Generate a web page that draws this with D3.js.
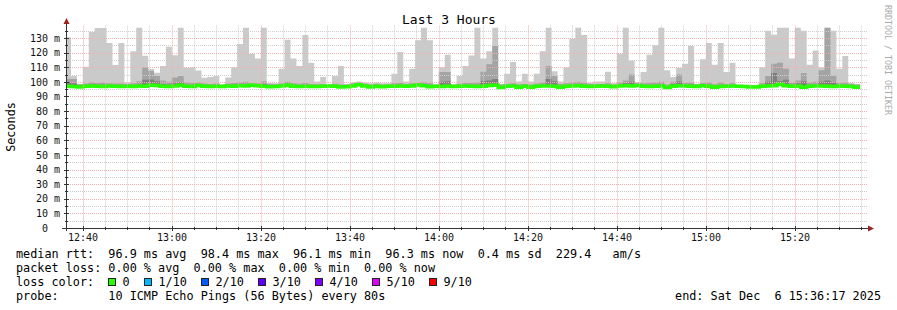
<!DOCTYPE html>
<html>
<head>
<meta charset="utf-8">
<script src="https://cdn.jsdelivr.net/npm/d3@7"></script>
<style>
  body { margin: 0; background: #fff; }
  svg { display: block; }
  text { font-family: "DejaVu Sans Mono", monospace; white-space: pre; }
</style>
</head>
<body>
<svg id="chart"></svg>
<script>
// Smokeping "Last 3 Hours" graph

// time range and rrd step
var stepSeconds = 80;
var firstStep = new Date(2025, 11, 6, 12, 36, 4);
var rangeStart = new Date(2025, 11, 6, 12, 36, 17);
var rangeEnd = new Date(2025, 11, 6, 15, 36, 17);

// median rtt per step (ms)
var medianRtt = [
  97.0, 96.9, 96.5, 97.0, 97.2, 97.0, 96.9, 97.1, 97.0, 96.8,
  97.0, 96.9, 97.1, 97.0, 97.6, 97.5, 97.0, 96.8, 97.1, 97.6,
  97.0, 96.9, 97.5, 97.0, 96.9, 97.0, 96.8, 97.1, 97.0, 97.3,
  97.1, 97.6, 97.4, 97.0, 96.7, 96.9, 97.2, 97.6, 97.0, 96.9,
  97.0, 96.8, 96.9, 97.0, 97.2, 97.0, 96.5, 96.6, 97.2, 98.0,
  97.1, 96.5, 97.0, 96.6, 97.0, 97.0, 97.1, 97.0, 97.2, 97.9,
  97.3, 96.6, 97.0, 96.9, 97.1, 96.8, 97.0, 97.2, 97.0, 96.9,
  97.0, 97.5, 97.6, 96.2, 97.0, 97.2, 96.3, 97.0, 96.3, 97.0,
  97.1, 97.2, 97.0, 96.3, 97.0, 97.1, 97.3, 97.0, 96.8, 97.0,
  97.1, 97.0, 96.7, 97.2, 97.3, 97.1, 97.5, 97.0, 96.9, 97.0,
  97.1, 96.2, 97.0, 97.3, 97.2, 97.0, 96.9, 97.4, 97.0, 96.3,
  96.9, 97.0, 97.1, 97.0, 96.8, 96.4, 96.4, 97.0, 97.2, 97.4,
  98.4, 97.3, 97.0, 97.1, 96.3, 97.0, 97.1, 97.2, 97.0, 96.9,
  97.1, 97.0, 96.9, 96.3
];

// slowest ping per step (outer smoke)
var maxRtt = [
  130.5, 104, 98.5, 110.4, 134.1, 136.8, 136.8, 126.6, 111.6, 126.6,
  99.7, 121, 137, 117.8, 108.8, 106.3, 110.9, 124, 118.2, 137,
  109.7, 110, 107.7, 102.9, 103.4, 104, 98.2, 103, 110, 125.9,
  137, 119, 116, 137, 99.2, 99, 109, 128.8, 116, 110.8,
  132, 113, 100.3, 103.3, 98.3, 104, 110.8, 98.5, 99.5, 100.3,
  99.5, 99, 99.5, 99, 99, 105.6, 120.4, 100.3, 109, 128.4,
  137, 128.4, 98.3, 110, 118.6, 98.3, 104, 110.8, 118, 137,
  116, 121, 137, 98.5, 105.6, 113.6, 100.3, 105.6, 100.3, 105.6,
  121, 137, 107.2, 100.3, 110, 129.5, 137, 132, 99.4, 100.3,
  100.3, 107, 99, 119.3, 137, 114.7, 99.9, 106.7, 118.6, 125,
  137, 107.9, 103.3, 109.5, 112.4, 124.5, 98.7, 115.4, 126.6, 111.7,
  126.6, 106.7, 113, 98, 98, 98, 98, 110, 135, 132.3,
  137, 137, 116, 137, 135, 111.7, 121.5, 110, 137, 135,
  109, 117.7, 99.4, 98.5
];

// 9th of 10 pings (second smoke band)
var upperRtt = [
  102, 102, 98.3, 98.8, 99.5, 99.3, 99.5, 99, 98.8, 98.8,
  98.6, 99, 100.5, 110, 107.5, 104, 101, 100, 103, 104,
  99.5, 99.2, 99.5, 98.8, 98.6, 98.8, 98, 98.8, 99.2, 99.5,
  100, 99, 98.8, 100.5, 98.5, 98.3, 98.8, 100, 99, 98.7,
  99.3, 98.6, 98.4, 98.6, 98, 98.7, 98.2, 98.2, 98.8, 99.6,
  98.7, 98.2, 98.6, 98.2, 98.4, 99, 99.2, 98.6, 99, 99.4,
  99.8, 99, 98, 106.7, 106.7, 98, 98.7, 99.3, 99.2, 99.5,
  107, 112, 124.5, 98.2, 98.6, 99, 98.2, 98.6, 98, 98.8,
  99.5, 110.8, 104, 98.5, 99, 99.5, 100, 99.4, 98.6, 98.6,
  98.5, 99, 98.2, 99.5, 101, 105, 99, 99, 99.4, 99.6,
  100, 98, 100, 105, 99.4, 99.6, 98.4, 99.2, 99.5, 98.4,
  99.5, 98.6, 99, 97.8, 97.6, 97.3, 97.3, 99, 104, 112.4,
  113, 109, 99.5, 101, 106, 99.6, 100, 108, 137, 104.4,
  99.3, 99.5, 98.6, 98.2
];

// 8th of 10 pings (third smoke band)
var innerRtt = [
  100, 99, 97.8, 97.8, 98, 97.9, 98, 97.8, 97.8, 97.8,
  97.8, 97.8, 98.2, 101.5, 101.7, 100.5, 98.5, 98.2, 99, 99.5,
  97.9, 97.8, 98, 97.8, 97.8, 97.8, 97.6, 97.8, 97.8, 98,
  98.2, 97.8, 97.8, 98.5, 97.6, 97.6, 97.8, 98.4, 97.8, 97.8,
  97.9, 97.6, 97.6, 97.6, 97.6, 97.8, 97.4, 97.4, 97.8, 98.6,
  97.8, 97.4, 97.6, 97.4, 97.6, 97.8, 97.9, 97.6, 97.8, 98.4,
  98.4, 97.6, 97.6, 100, 100.5, 97.6, 97.8, 97.9, 97.8, 97.9,
  100.5, 101, 102, 97.2, 97.8, 97.9, 97.2, 97.6, 97.2, 97.8,
  97.9, 102, 100.5, 97.2, 97.8, 97.9, 98.2, 97.8, 97.6, 97.6,
  97.6, 97.8, 97.4, 97.9, 99, 100, 98, 97.8, 97.8, 97.9,
  98.2, 97.2, 98.6, 100.2, 97.9, 98, 97.6, 98, 97.8, 97.2,
  97.8, 97.6, 97.8, 97.4, 97.4, 97.2, 97.2, 97.8, 100, 106,
  100.5, 101.5, 97.9, 99, 100.5, 97.9, 98, 100, 101, 99.5,
  97.8, 97.9, 97.6, 97.2
];

// axis ticks
var yTickValues = [0, 10, 20, 30, 40, 50, 60, 70, 80, 90, 100, 110, 120, 130];
var xTickLabels = ["12:40", "13:00", "13:20", "13:40", "14:00", "14:20", "14:40", "15:00", "15:20"];

// legend
var statLines = [
  "median rtt:  96.9 ms avg  98.4 ms max  96.1 ms min  96.3 ms now  0.4 ms sd  229.4   am/s",
  "packet loss: 0.00 % avg  0.00 % max  0.00 % min  0.00 % now"
];
var lossLabels = ["0", "1/10", "2/10", "3/10", "4/10", "5/10", "9/10"];
var lossColors = ["#26ff00", "#00b8ff", "#0059ff", "#5e00ff", "#7e00ff", "#dd00ff", "#ff0000"];
var probeText = "probe:       10 ICMP Echo Pings (56 Bytes) every 80s";
var endText = "end: Sat Dec  6 15:36:17 2025";

// Setup
// ===========================
var width = 897, height = 310;
var plotLeft = 66, plotRight = 867, plotTop = 25.6, plotBottom = 228;

var svg = d3.select("#chart")
  .attr("width", width)
  .attr("height", height);

svg.append("rect")
  .attr("width", width)
  .attr("height", height)
  .attr("fill", "#fff");

var x = d3.scaleTime()
  .domain([rangeStart, rangeEnd])
  .range([plotLeft, plotRight]);

var y = d3.scaleLinear()
  .domain([0, 138.5])
  .range([plotBottom, plotTop]);

svg.append("clipPath")
  .attr("id", "plotClip")
  .append("rect")
  .attr("x", plotLeft)
  .attr("y", plotTop - 2)
  .attr("width", plotRight - plotLeft)
  .attr("height", plotBottom - plotTop + 2);

// one point per step, plus a closing point so the last step has width
var points = medianRtt.map(function(m, i) {
  return {
    t: new Date(firstStep.getTime() + i * stepSeconds * 1000),
    median: m,
    max: maxRtt[i],
    upper: upperRtt[i],
    inner: innerRtt[i]
  };
});
var last = points[points.length - 1];
points.push(Object.assign({}, last, {
  t: new Date(last.t.getTime() + stepSeconds * 1000)
}));

var plot = svg.append("g").attr("clip-path", "url(#plotClip)");

// smoke bands
var bands = [
  { key: "max", color: "#cacaca" },
  { key: "upper", color: "#a4a4a4" },
  { key: "inner", color: "#7e7e7e" }
];

bands.forEach(function(b) {
  var area = d3.area()
    .curve(d3.curveStepAfter)
    .x(function(d) { return x(d.t); })
    .y0(function(d) { return y(d.median); })
    .y1(function(d) { return y(Math.max(d[b.key], d.median)); });

  plot.append("path")
    .datum(points)
    .attr("d", area)
    .attr("fill", b.color);
});

// grid
var minorColor = "#cdcdcd";
var majorColor = "#f3b0b0";
var grid = svg.append("g");
var minorY = d3.range(5, 136, 5).filter(function(v) { return v % 10 !== 0; });
var majorY = yTickValues.filter(function(v) { return v > 0; });
var minorX = x.ticks(d3.timeMinute.every(5)).filter(function(t) { return t.getMinutes() % 20 !== 0; });
var majorX = x.ticks(d3.timeMinute.every(20));

grid.selectAll(".minorY").data(minorY).enter().append("line")
  .attr("x1", plotLeft).attr("x2", plotRight + 1)
  .attr("y1", function(d) { return Math.round(y(d)) + 0.5; })
  .attr("y2", function(d) { return Math.round(y(d)) + 0.5; })
  .attr("stroke", minorColor).attr("stroke-dasharray", "1,1");

grid.selectAll(".minorX").data(minorX).enter().append("line")
  .attr("x1", function(d) { return Math.round(x(d)) + 0.5; })
  .attr("x2", function(d) { return Math.round(x(d)) + 0.5; })
  .attr("y1", plotTop).attr("y2", plotBottom)
  .attr("stroke", minorColor).attr("stroke-dasharray", "1,1");

grid.selectAll(".majorY").data(majorY).enter().append("line")
  .attr("x1", plotLeft).attr("x2", plotRight + 1)
  .attr("y1", function(d) { return Math.round(y(d)) + 0.5; })
  .attr("y2", function(d) { return Math.round(y(d)) + 0.5; })
  .attr("stroke", majorColor).attr("stroke-dasharray", "1,1");

grid.selectAll(".majorX").data(majorX).enter().append("line")
  .attr("x1", function(d) { return Math.round(x(d)) + 0.5; })
  .attr("x2", function(d) { return Math.round(x(d)) + 0.5; })
  .attr("y1", plotTop).attr("y2", plotBottom)
  .attr("stroke", majorColor).attr("stroke-dasharray", "1,1");

// median line
var medianLine = d3.line()
  .curve(d3.curveStepAfter)
  .x(function(d) { return x(d.t); })
  .y(function(d) { return y(d.median); });

plot.append("path")
  .datum(points)
  .attr("d", medianLine)
  .attr("fill", "none")
  .attr("stroke", lossColors[0])
  .attr("stroke-width", 3.5);

// axes
var axisColor = "#333";
var arrowColor = "#9c2121";

svg.append("line")
  .attr("x1", plotLeft + 0.5).attr("x2", plotLeft + 0.5)
  .attr("y1", plotBottom + 3).attr("y2", 24)
  .attr("stroke", axisColor);

svg.append("line")
  .attr("x1", plotLeft - 4).attr("x2", 870)
  .attr("y1", plotBottom + 0.5).attr("y2", plotBottom + 0.5)
  .attr("stroke", axisColor);

svg.append("path")
  .attr("d", "M" + (plotLeft - 2.5) + ",24 L" + (plotLeft + 3.5) + ",24 L" + (plotLeft + 0.5) + ",18 Z")
  .attr("fill", arrowColor);

svg.append("path")
  .attr("d", "M868," + (plotBottom - 2.5) + " L868," + (plotBottom + 3.5) + " L874," + (plotBottom + 0.5) + " Z")
  .attr("fill", arrowColor);

// tick marks
svg.selectAll(".ytick").data(majorY).enter().append("line")
  .attr("x1", plotLeft - 2).attr("x2", plotLeft + 3)
  .attr("y1", function(d) { return Math.round(y(d)) + 0.5; })
  .attr("y2", function(d) { return Math.round(y(d)) + 0.5; })
  .attr("stroke", axisColor);

svg.selectAll(".ytickm").data(minorY).enter().append("line")
  .attr("x1", plotLeft - 1).attr("x2", plotLeft + 2)
  .attr("y1", function(d) { return Math.round(y(d)) + 0.5; })
  .attr("y2", function(d) { return Math.round(y(d)) + 0.5; })
  .attr("stroke", axisColor);

svg.selectAll(".xtick").data(majorX).enter().append("line")
  .attr("x1", function(d) { return Math.round(x(d)) + 0.5; })
  .attr("x2", function(d) { return Math.round(x(d)) + 0.5; })
  .attr("y1", plotBottom - 2).attr("y2", plotBottom + 3)
  .attr("stroke", axisColor);

svg.selectAll(".xtickm").data(minorX).enter().append("line")
  .attr("x1", function(d) { return Math.round(x(d)) + 0.5; })
  .attr("x2", function(d) { return Math.round(x(d)) + 0.5; })
  .attr("y1", plotBottom - 1).attr("y2", plotBottom + 2)
  .attr("stroke", axisColor);

// tick labels through d3 axes
var leftAxis = d3.axisLeft(y)
  .tickValues(yTickValues)
  .tickSize(0)
  .tickPadding(6)
  .tickFormat(function(v) { return v === 0 ? "0  " : v + " m"; });

var yAxisG = svg.append("g")
  .attr("transform", "translate(" + plotLeft + ",0)")
  .call(leftAxis);

var bottomAxis = d3.axisBottom(x)
  .tickValues(majorX)
  .tickSize(0)
  .tickPadding(6)
  .tickFormat(function(d, i) { return xTickLabels[i]; });

var xAxisG = svg.append("g")
  .attr("transform", "translate(0," + plotBottom + ")")
  .call(bottomAxis);

[yAxisG, xAxisG].forEach(function(g) {
  g.select(".domain").remove();
  g.attr("font-family", null).attr("font-size", null);
  g.selectAll("text")
    .attr("font-size", "10px")
    .attr("fill", "#111");
});

// titles
svg.append("text")
  .attr("x", 449)
  .attr("y", 24)
  .attr("text-anchor", "middle")
  .attr("font-size", "13px")
  .attr("fill", "#000")
  .text("Last 3 Hours");

svg.append("text")
  .attr("transform", "translate(15,127) rotate(-90)")
  .attr("text-anchor", "middle")
  .attr("font-size", "11.8px")
  .attr("fill", "#000")
  .text("Seconds");

svg.append("text")
  .attr("transform", "translate(885,5) rotate(90)")
  .attr("font-size", "8.3px")
  .attr("fill", "#aaa")
  .text("RRDTOOL / TOBI OETIKER");

// legend
var charW = 7.1;
var legend = svg.append("g")
  .attr("font-size", "11.8px")
  .attr("fill", "#000");

statLines.forEach(function(s, i) {
  legend.append("text")
    .attr("x", 16)
    .attr("y", 258 + i * 14)
    .text(s);
});

legend.append("text")
  .attr("x", 16)
  .attr("y", 286)
  .text("loss color:");

var lx = 108;
lossLabels.forEach(function(lab, i) {
  legend.append("rect")
    .attr("x", lx + 0.5)
    .attr("y", 278.5)
    .attr("width", 7)
    .attr("height", 7)
    .attr("fill", lossColors[i])
    .attr("stroke", "#222")
    .attr("stroke-width", 1);
  legend.append("text")
    .attr("x", lx + 14.5)
    .attr("y", 286)
    .text(lab);
  lx += 14.5 + lab.length * 7 + 14.5;
});

legend.append("text")
  .attr("x", 16)
  .attr("y", 299.5)
  .text(probeText);

legend.append("text")
  .attr("x", 881)
  .attr("y", 299.5)
  .attr("text-anchor", "end")
  .text(endText);
</script>
</body>
</html>
